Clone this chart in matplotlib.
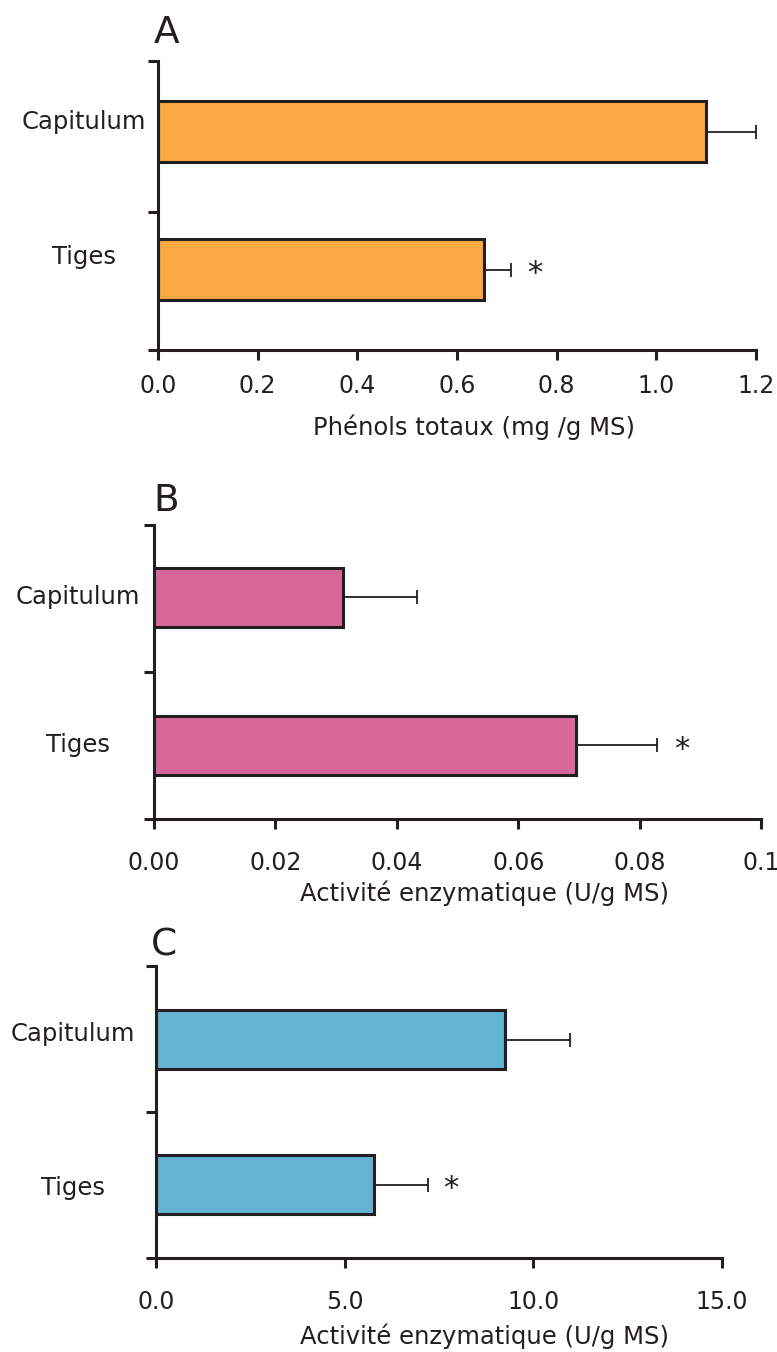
import matplotlib
matplotlib.use('Agg')
from matplotlib import pyplot as plt
import matplotlib.transforms as mtransforms

plt.rcParams['font.family'] = ['DejaVu Sans']

# data
categories = ['Capitulum', 'Tiges']

phenols = [1.10, 0.654]
phenols_err = [0.100, 0.054]

enzyme_b = [0.0311, 0.0695]
enzyme_b_err = [0.0122, 0.0134]

enzyme_c = [9.26, 5.78]
enzyme_c_err = [1.72, 1.43]

stars = ['', '*']

ticks_a = [0.0, 0.2, 0.4, 0.6, 0.8, 1.0, 1.2]
ticks_b = [0.00, 0.02, 0.04, 0.06, 0.08, 0.1]
ticks_c = [0.0, 5.0, 10.0, 15.0]
labels_a = ['0.0', '0.2', '0.4', '0.6', '0.8', '1.0', '1.2']
labels_b = ['0.00', '0.02', '0.04', '0.06', '0.08', '0.1']
labels_c = ['0.0', '5.0', '10.0', '15.0']

xlabel_a = 'Phénols totaux (mg /g MS)'
xlabel_b = 'Activité enzymatique (U/g MS)'
xlabel_c = 'Activité enzymatique (U/g MS)'

dark = '#231f20'
W, H = 777, 1352
fig = plt.figure(figsize=(W / 100, H / 100), dpi=100)


def make_panel(rect, vals, errs, color, ticks, labels, xlabel, letter,
               letter_pos, label_x, lab_off, pad, xlab_pos, ylim, midtick,
               barh):
    ax = fig.add_axes(rect)
    ypos = [0, 1]
    ax.barh(ypos, vals, height=barh, color=color, edgecolor=dark,
            linewidth=2.2, zorder=2)
    ax.errorbar(vals, ypos, xerr=[[0, 0], errs], fmt='none', ecolor=dark,
                elinewidth=1.3, capsize=5, capthick=1.3, zorder=1)
    xmax = ticks[-1]
    for v, e, y, s in zip(vals, errs, ypos, stars):
        if s:
            ax.text(v + e + 0.04 * xmax, y + 0.03, s, fontsize=22,
                    ha='center', va='center', color=dark)
    ax.set_xlim(0, xmax)
    ax.set_ylim(ylim[1], ylim[0])
    ax.set_xticks(ticks)
    ax.set_xticklabels(labels, fontsize=17, color=dark)
    ax.set_yticks([ylim[0], midtick, ylim[1]])
    ax.set_yticklabels([])
    for sp in ['top', 'right']:
        ax.spines[sp].set_visible(False)
    for sp in ['left', 'bottom']:
        ax.spines[sp].set_linewidth(2.2)
        ax.spines[sp].set_color(dark)
    ax.tick_params(axis='both', direction='out', length=7, width=2.2,
                   color=dark)
    ax.tick_params(axis='x', pad=pad)
    trans = mtransforms.blended_transform_factory(ax.transAxes, ax.transData)
    for c, y, off in zip(categories, ypos, lab_off):
        ax.text(label_x, y + off, c, transform=trans, fontsize=17.5,
                ha='center', va='center', color=dark)
    ax.set_xlabel(xlabel, fontsize=17.5, color=dark)
    ax.xaxis.set_label_coords(xlab_pos[0], xlab_pos[1])
    fig.text(letter_pos[0] / W, 1 - letter_pos[1] / H, letter, fontsize=27,
             ha='left', va='center', color=dark)
    return ax


make_panel([0.2033, 0.7411, 0.7696, 0.2138], phenols, phenols_err, '#f9a842',
           ticks_a, labels_a, xlabel_a, 'A', (154, 33), -0.124,
           [-0.072, -0.09], 10, (0.529, -0.222), (-0.511, 1.583), 0.583, 0.44)
make_panel([0.1982, 0.3942, 0.7812, 0.2175], enzyme_b, enzyme_b_err, '#d9689a',
           ticks_b, labels_b, xlabel_b, 'B', (153, 501), -0.125,
           [0.0, 0.0], 16, (0.545, -0.209), (-0.49, 1.497), 0.503, 0.40)
make_panel([0.2008, 0.0695, 0.7284, 0.2160], enzyme_c, enzyme_c_err, '#64b2d4',
           ticks_c, labels_c, xlabel_c, 'C', (151, 945), -0.147,
           [-0.038, 0.024], 16, (0.58, -0.224), (-0.507, 1.507), 0.5, 0.407)

fig.savefig('out.png', dpi=100)
